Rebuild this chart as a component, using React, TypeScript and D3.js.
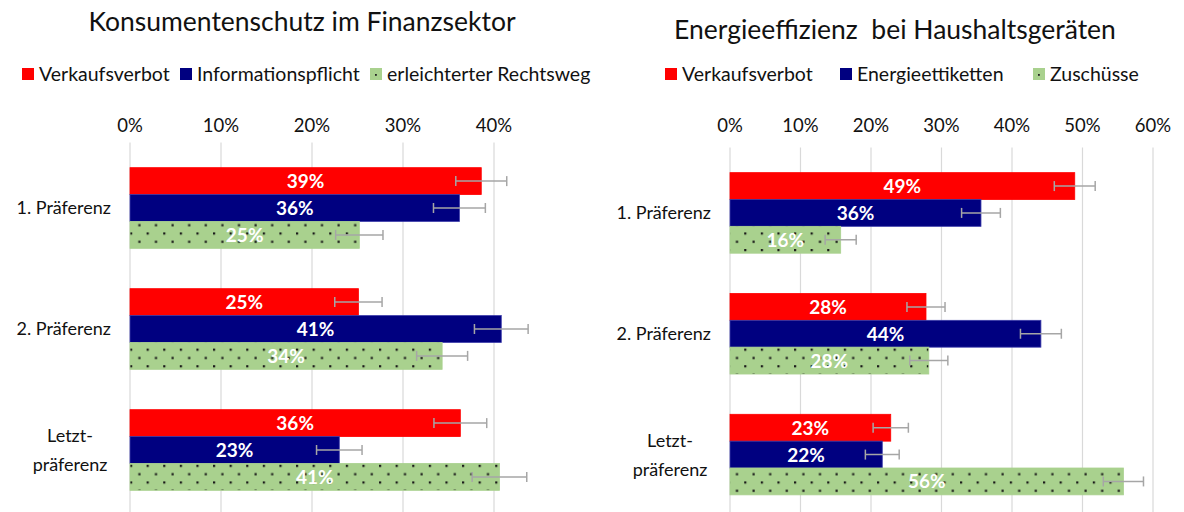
import React from "react";
import * as d3 from "d3";

// categories (y axis)
const categories = ["1. Präferenz", "2. Präferenz", "Letzt-\npräferenz"];

// left panel: Konsumentenschutz im Finanzsektor
const leftNames = ["Verkaufsverbot", "Informationspflicht", "erleichterter Rechtsweg"];
const leftVerkaufsverbot = [0.386, 0.251, 0.363];
const leftInformationspflicht = [0.362, 0.408, 0.23];
const leftRechtsweg = [0.252, 0.343, 0.406];
const leftVerkaufsverbotErr = [0.028, 0.026, 0.029];
const leftInformationspflichtErr = [0.0285, 0.0295, 0.025];
const leftRechtswegErr = [0.026, 0.028, 0.03];
const leftTicks = [0, 0.1, 0.2, 0.3, 0.4];

// right panel: Energieeffizienz bei Haushaltsgeräten
const rightNames = ["Verkaufsverbot", "Energieettiketten", "Zuschüsse"];
const rightVerkaufsverbot = [0.489, 0.278, 0.228];
const rightEnergieettiketten = [0.356, 0.441, 0.216];
const rightZuschuesse = [0.157, 0.282, 0.558];
const rightVerkaufsverbotErr = [0.029, 0.027, 0.025];
const rightEnergieettikettenErr = [0.0275, 0.029, 0.024];
const rightZuschuesseErr = [0.022, 0.027, 0.0285];
const rightTicks = [0, 0.1, 0.2, 0.3, 0.4, 0.5, 0.6];

const FONT = "Lato, 'Open Sans', sans-serif";
const RED = "#ff0000";
const NAVY = "#000080";
const GREEN = "#a9d18e";
const fills = [RED, NAVY, "url(#dots)"];
const strokes = [RED, "#3c3caa", GREEN];

function Panel({ title, names, series, errors, ticks, xRange, yRange, titleX, titleY, legendX, catX }) {
  const x = d3.scaleLinear().domain([0, ticks[ticks.length - 1]]).range(xRange);
  const y = d3.scaleBand().domain(categories).range(yRange).paddingInner(1 / 3).paddingOuter(1 / 6);
  const sub = d3.scaleBand().domain(d3.range(series.length)).range([0, y.bandwidth()]);
  const fmt = d3.format(".0%");

  return (
    <g>
      <text x={titleX} y={titleY} textAnchor="middle" fontSize={26.5} fill="#111">{title}</text>

      {names.map((n, i) => (
        <g key={n} transform={`translate(${legendX[i]},75)`}>
          <rect x={0} y={-7} width={12} height={12} fill={i === 2 ? GREEN : fills[i]} />
          {i === 2 && <rect x={5} y={-1} width={1.8} height={1.8} fill="#222" />}
          <text x={17} y={6} fontSize={19.5} fill="#111">{n}</text>
        </g>
      ))}

      {ticks.map(t => (
        <g key={t}>
          <line x1={x(t)} x2={x(t)} y1={yRange[0] - 5} y2={512} stroke="#d9d9d9" strokeWidth={1.2} />
          <text x={x(t)} y={132} textAnchor="middle" fontSize={18.5} fill="#111">{fmt(t)}</text>
        </g>
      ))}

      {categories.map(c => {
        const lines = c.split("\n");
        const cy = y(c) + y.bandwidth() / 2;
        if (lines.length === 1)
          return <text key={c} x={catX} y={cy + 6} textAnchor="end" fontSize={18} fill="#111">{c}</text>;
        return (
          <text key={c} x={catX - 41} y={cy - 8} textAnchor="middle" fontSize={18} fill="#111">
            {lines.map((l, k) => <tspan key={k} x={catX - 41} dy={k === 0 ? 0 : 29}>{l}</tspan>)}
          </text>
        );
      })}

      {series.map((vals, si) => vals.map((v, ci) => {
        const by = y(categories[ci]) + sub(si);
        const h = sub.bandwidth();
        const x0 = x(0);
        const x1 = x(v);
        const e = errors[si][ci];
        const ey = by + h / 2;
        return (
          <g key={`${si}-${ci}`}>
            <rect x={x0} y={by} width={x1 - x0} height={h} fill={fills[si]} stroke={strokes[si]} strokeWidth={0.8} />
            <text x={(x0 + x1) / 2} y={ey + 7} textAnchor="middle" fontSize={19} fontWeight="bold" fill="#fff">{fmt(v)}</text>
            <line x1={x(v - e)} x2={x(v + e)} y1={ey} y2={ey} stroke="#a6a6a6" strokeWidth={1.5} />
            <line x1={x(v - e)} x2={x(v - e)} y1={ey - 5} y2={ey + 5} stroke="#a6a6a6" strokeWidth={1.5} />
            <line x1={x(v + e)} x2={x(v + e)} y1={ey - 5} y2={ey + 5} stroke="#a6a6a6" strokeWidth={1.5} />
          </g>
        );
      }))}
    </g>
  );
}

export default function App() {
  return (
    <svg width={1184} height={512} style={{ position: "absolute", left: 0, top: 0, background: "#fff" }} fontFamily={FONT}>
      <defs>
        <pattern id="dots" patternUnits="userSpaceOnUse" width={16.6} height={16.6} x={130} y={0}>
          <rect width={16.6} height={16.6} fill={GREEN} />
          <rect x={0} y={0} width={2.2} height={2.2} fill="#1a1a1a" />
          <rect x={8.3} y={8.3} width={2.2} height={2.2} fill="#1a1a1a" />
        </pattern>
      </defs>
      <Panel
        title="Konsumentenschutz im Finanzsektor"
        names={leftNames}
        series={[leftVerkaufsverbot, leftInformationspflicht, leftRechtsweg]}
        errors={[leftVerkaufsverbotErr, leftInformationspflichtErr, leftRechtswegErr]}
        ticks={leftTicks}
        xRange={[130, 494]}
        yRange={[147.5, 510.5]}
        titleX={302}
        titleY={31}
        legendX={[22, 180, 370]}
        catX={111}
      />
      <Panel
        title={"Energieeffizienz\u00a0 bei Haushaltsgeräten"}
        names={rightNames}
        series={[rightVerkaufsverbot, rightEnergieettiketten, rightZuschuesse]}
        errors={[rightVerkaufsverbotErr, rightEnergieettikettenErr, rightZuschuesseErr]}
        ticks={rightTicks}
        xRange={[730, 1153]}
        yRange={[152.5, 515]}
        titleX={895}
        titleY={39}
        legendX={[665, 840, 1033]}
        catX={711}
      />
    </svg>
  );
}
